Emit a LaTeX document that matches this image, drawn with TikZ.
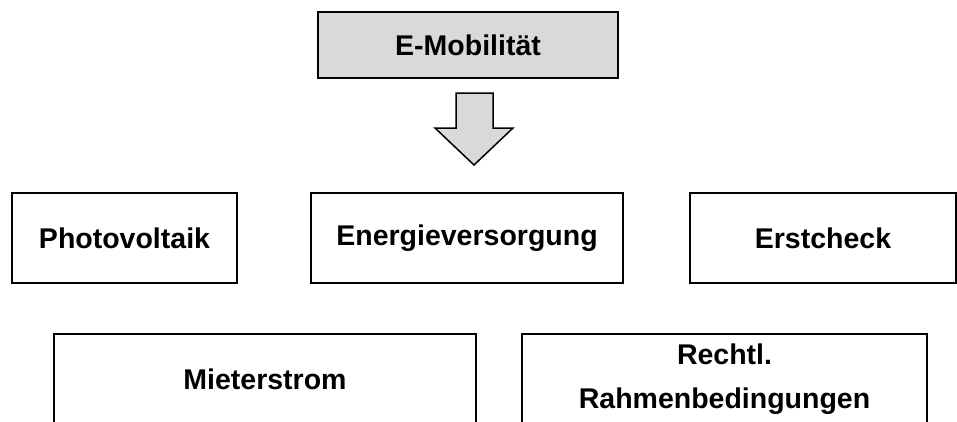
\documentclass[tikz,border=0pt]{standalone}
\usepackage{fontspec}
\setmainfont{Liberation Sans}
\usepackage{tikz}
\usetikzlibrary{positioning}
\tikzstyle{box} = [rectangle, draw, line width=2pt, minimum height=90pt, inner sep=0pt, align=center, font=\fontsize{28.5}{44}\selectfont\bfseries]
\tikzstyle{blockarrow} = [draw, line width=1.5pt, fill=gray!30, line join=miter]

\begin{document}
\begin{tikzpicture}[x=1pt, y=-1pt]
\useasboundingbox (0,0) rectangle (957,421);

\node [box, fill=gray!30, minimum width=300pt, minimum height=66pt] (em) at (468,45) {E-Mobilität};

\draw [blockarrow] (456,93) -- (493,93) -- (493,128) -- (513,128) -- (474,165) -- (435,128) -- (456,128) -- cycle;

\node [box, minimum width=225pt] (pv) at (124.5,238) {Photovoltaik};
\node [box, minimum width=312pt] (ev) at (467,238) {Energieversorgung};
\node [box, minimum width=266pt] (ec) at (823,238) {Erstcheck};

\node [box, minimum width=422pt] (ms) at (265,379) {Mieterstrom};
\node [box, minimum width=405pt] (rr) at (724.5,379) {Rechtl.\\Rahmenbedingungen};

\end{tikzpicture}
\end{document}
